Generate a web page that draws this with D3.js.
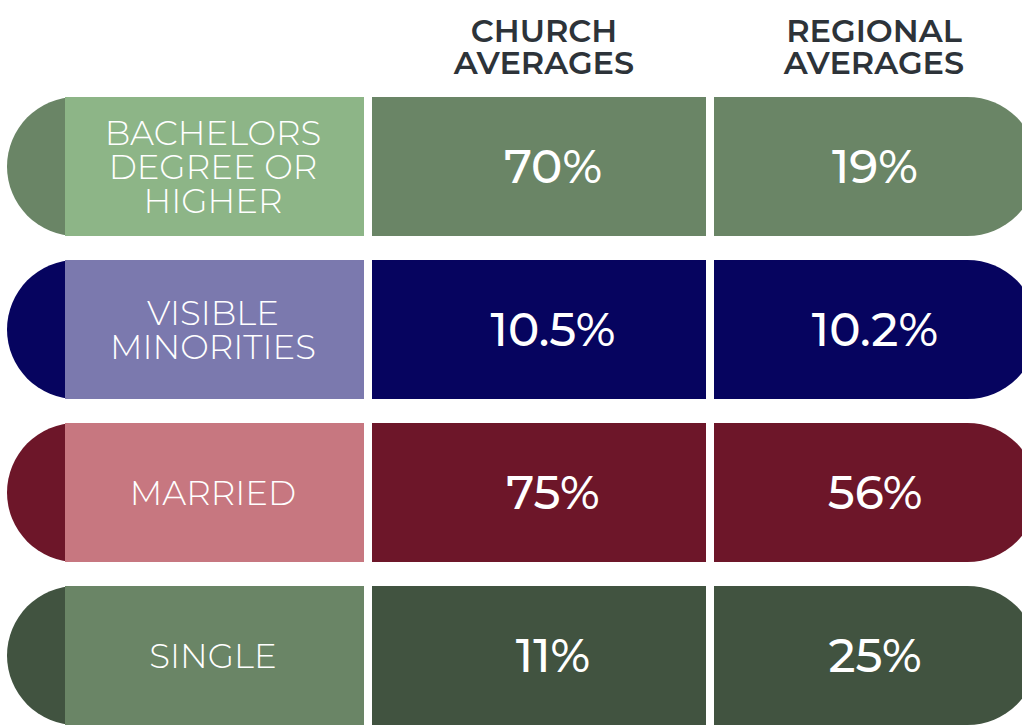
<!DOCTYPE html>
<html>
<head>
	<meta charset="utf-8">
	<title>Church vs Regional Averages</title>
	<script src="https://d3js.org/d3.v7.min.js"></script>
	<style>
		body { margin: 0; background: #fff; }
		svg { display: block; }
	</style>
</head>
<body>
	<div id="chart"></div>
	<script>
		var w = 1022, h = 725;

		// data
		var categories = [["BACHELORS", "DEGREE OR", "HIGHER"], ["VISIBLE", "MINORITIES"], ["MARRIED"], ["SINGLE"]];
		var churchValues = ["70%", "10.5%", "75%", "11%"];
		var regionalValues = ["19%", "10.2%", "56%", "25%"];
		var columnHeaders = [["CHURCH", "AVERAGES"], ["REGIONAL", "AVERAGES"]];
		var darkColors = ["#6a8566", "#06045f", "#6d1629", "#415340"];
		var lightColors = ["#8db587", "#7b79ae", "#c77780", "#6a8566"];

		var svg = d3.select("#chart")
			.append("svg")
			.attr("width", w)
			.attr("height", h);

		// rows: 139px tall, 163px apart
		var y = d3.scaleBand()
			.domain(d3.range(categories.length))
			.range([97, 97 + 163 * 3 + 139])
			.paddingInner(24 / 163)
			.paddingOuter(0);
		// column centers
		var x = d3.scaleOrdinal()
			.domain(["label", "church", "regional"])
			.range([213, 553, 875]);

		var font = "Montserrat, 'Open Sans', sans-serif";

		// headers
		svg.selectAll(".header")
			.data(columnHeaders)
			.enter().append("text")
			.attr("class", "header")
			.attr("text-anchor", "middle")
			.attr("fill", "#2d3339")
			.style("font-family", font)
			.style("font-weight", 600)
			.style("font-size", "32px")
			.selectAll("tspan")
			.data(function(d, i) { return d.map(function(t) { return {t: t, col: i}; }); })
			.enter().append("tspan")
			.attr("x", function(d) { return d.col == 0 ? x("church") - 9 : x("regional") - 1; })
			.attr("y", function(d, j) { return 42 + j * 32; })
			.text(function(d) { return d.t; });

		var rows = svg.selectAll(".row")
			.data(categories)
			.enter().append("g")
			.attr("class", "row")
			.attr("transform", function(d, i) { return "translate(0," + y(i) + ")"; });

		var bh = y.bandwidth();

		// full pill in the dark colour
		rows.append("rect")
			.attr("x", 7)
			.attr("y", 0)
			.attr("width", 1030)
			.attr("height", bh)
			.attr("rx", bh / 2)
			.attr("ry", bh / 2)
			.attr("fill", function(d, i) { return darkColors[i]; });

		// label box
		rows.append("rect")
			.attr("x", 65)
			.attr("y", 0)
			.attr("width", 299)
			.attr("height", bh)
			.attr("fill", function(d, i) { return lightColors[i]; });

		// white separators
		rows.append("rect")
			.attr("x", 364)
			.attr("y", 0)
			.attr("width", 8)
			.attr("height", bh)
			.attr("fill", "#fff");
		rows.append("rect")
			.attr("x", 706)
			.attr("y", 0)
			.attr("width", 8)
			.attr("height", bh)
			.attr("fill", "#fff");

		// category labels
		rows.append("text")
			.attr("text-anchor", "middle")
			.attr("fill", "#fff")
			.style("font-family", font)
			.style("font-weight", 300)
			.style("font-size", "34px")
			.each(function(d) {
				var t = d3.select(this);
				var n = d.length;
				d.forEach(function(line, j) {
					t.append("tspan")
						.attr("x", x("label"))
						.attr("y", bh / 2 + 12 + (j - (n - 1) / 2) * 34)
						.text(line);
				});
			});

		// values
		rows.append("text")
			.attr("x", x("church"))
			.attr("y", bh / 2 + 16)
			.attr("text-anchor", "middle")
			.attr("fill", "#fff")
			.style("font-family", font)
			.style("font-weight", 500)
			.style("font-size", "47px")
			.text(function(d, i) { return churchValues[i]; });
		rows.append("text")
			.attr("x", x("regional"))
			.attr("y", bh / 2 + 16)
			.attr("text-anchor", "middle")
			.attr("fill", "#fff")
			.style("font-family", font)
			.style("font-weight", 500)
			.style("font-size", "47px")
			.text(function(d, i) { return regionalValues[i]; });
	</script>
</body>
</html>
